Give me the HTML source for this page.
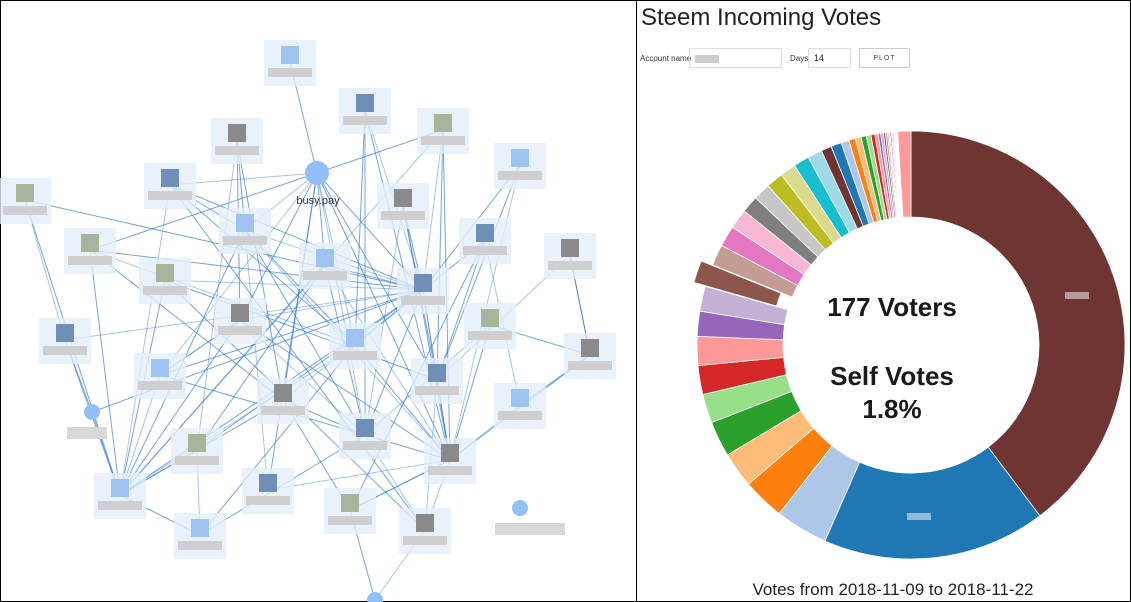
<!DOCTYPE html>
<html><head><meta charset="utf-8">
<style>
html,body{margin:0;padding:0;background:#fff;}
body{width:1131px;height:602px;position:relative;overflow:hidden;font-family:"Liberation Sans",sans-serif;}
#frame{position:absolute;left:0;top:0;width:1129px;height:600px;border:1px solid #000;}
#divider{position:absolute;left:636px;top:0;width:1px;height:602px;background:#000;}
#title{position:absolute;left:641px;top:4px;font-size:24px;color:#222;}
.lbl{position:absolute;font-size:8px;color:#333;}
.inp{position:absolute;height:18px;border:1px solid #ddd;border-radius:2px;font-size:9px;line-height:18px;padding-left:5px;box-sizing:border-box;color:#222;}
#plot{position:absolute;left:859px;top:48px;width:51px;height:20px;border:1px solid #ccc;border-radius:2px;font-size:7px;letter-spacing:1px;text-align:center;line-height:19px;color:#444;box-sizing:border-box;}
#footer{position:absolute;left:700px;width:386px;top:580px;text-align:center;font-size:17px;color:#222;}
svg{position:absolute;left:0;top:0;}
</style></head>
<body>
<div id="frame"></div>
<svg id="graph" width="636" height="602"></svg>
<div id="divider"></div>
<div id="title">Steem Incoming Votes</div>
<div class="lbl" style="left:640px;top:54px">Account name</div>
<div class="inp" style="left:689px;top:48px;width:93px;height:20px"><span style="display:inline-block;width:24px;height:8px;background:#ccc;vertical-align:middle"></span></div>
<div class="lbl" style="left:790px;top:54px">Days</div>
<div class="inp" style="left:808px;top:48px;width:43px;height:20px">14</div>
<div id="plot">PLOT</div>
<svg id="donut" width="1131" height="602" style="pointer-events:none"></svg>
<div id="footer">Votes from 2018-11-09 to 2018-11-22</div>
<script>
const NS="http://www.w3.org/2000/svg";
// ---- donut data ----
const voteShares=[40,17,4,3.2,2.7,2.7,2.2,2.2,2.2,1.9,1.9,1.7,1.6,1.6,1.5,1.3,1.3,1.3,1.2,1.2,1.1,
 0.8,0.8,0.6,0.5,0.45,0.4,0.35,0.3,0.25,0.2,0.2,0.15,0.15,0.1,0.1,0.1,0.1,0.08,0.08,0.06,0.06,0.05,0.05,1.0];
const sliceColors=['#6e3532','#1f77b4','#aec7e8','#ff7f0e','#ffbb78','#2ca02c','#98df8a','#d62728','#ff9896','#9467bd','#c5b0d5','#8c564b','#c49c94','#e377c2','#f7b6d2','#7f7f7f','#c7c7c7','#bcbd22','#dbdb8d','#17becf','#9edae5'];
const explodedIndex=11;
const centerLines=["177 Voters","Self Votes","1.8%"];

const d=document.getElementById('donut');
const cx=911,cy=345,ro=214,ri=128;
const total=voteShares.reduce((a,b)=>a+b,0);
function pt(r,a){return [cx+r*Math.sin(a),cy-r*Math.cos(a)];}
let acc=0;
voteShares.forEach((v,i)=>{
  const a0=acc/total*2*Math.PI; acc+=v; const a1=acc/total*2*Math.PI;
  const large=(a1-a0)>Math.PI?1:0;
  const p0=pt(ro,a0),p1=pt(ro,a1),p2=pt(ri,a1),p3=pt(ri,a0);
  const p=document.createElementNS(NS,'path');
  p.setAttribute('d',`M${p0}A${ro},${ro} 0 ${large} 1 ${p1}L${p2}A${ri},${ri} 0 ${large} 0 ${p3}Z`);
  p.setAttribute('fill',i===voteShares.length-1?'#ff9896':sliceColors[i%sliceColors.length]);
  p.setAttribute('stroke','#fff');p.setAttribute('stroke-width','0.8');
  if(i===explodedIndex){const m=(a0+a1)/2;p.setAttribute('transform',`translate(${12*Math.sin(m)},${-12*Math.cos(m)})`);}
  
  
  d.appendChild(p);
});
[[1065,292,24],[907,513,24]].forEach((b,i)=>{
  const r=document.createElementNS(NS,'rect');
  r.setAttribute('x',b[0]);r.setAttribute('y',b[1]);r.setAttribute('width',b[2]);r.setAttribute('height',7);
  r.setAttribute('fill','rgba(255,255,255,0.5)');
  
  
  d.appendChild(r);
});
[[316,26],[385,26],[418,26]].forEach((c,i)=>{
  const t=document.createElementNS(NS,'text');
  t.setAttribute('x',892);t.setAttribute('y',c[0]);t.setAttribute('text-anchor','middle');
  t.setAttribute('font-size',c[1]);t.setAttribute('font-weight','bold');t.setAttribute('fill','#1a1a1a');
  t.setAttribute('font-family','Liberation Sans, sans-serif');
  t.textContent=centerLines[i];
  
  
  d.appendChild(t);
});

// ---- network graph ----
const nodeX=[317,290,365,443,237,520,170,25,403,245,485,90,570,325,423,165,240,355,65,490,590,160,437,92,283,520,365,197,450,120,268,350,425,200,520,375];
const nodeY=[173,62,110,130,140,165,185,200,205,230,240,250,255,265,290,280,320,345,340,325,355,375,380,412,400,405,435,450,460,495,490,510,530,535,508,600];
const nodeKind=[1,0,0,0,0,0,0,0,0,0,0,0,0,0,0,0,0,0,0,0,0,0,0,1,0,0,0,0,0,0,0,0,0,0,1,1];
const edgeFrom=[0,0,0,0,0,0,0,0,0,0,0,0,0,0,1,2,2,2,3,3,3,4,4,4,4,5,5,5,6,6,6,6,7,7,7,8,8,8,8,9,9,9,9,10,10,10,11,11,11,11,12,12,13,13,13,13,13,14,14,14,15,15,15,16,16,16,16,17,17,17,18,18,18,19,19,19,20,21,21,21,22,22,23,23,24,24,24,25,25,26,26,27,27,28,28,29,30,31,31,32,33,2,3,6,9,4,15,10,16,24,17,11,12,21,27,26];
const edgeTo  =[9,13,16,17,14,22,26,28,24,6,11,3,21,30,0,14,17,26,14,22,28,9,16,24,27,14,22,28,14,17,29,9,14,18,29,14,26,22,28,14,29,17,28,14,22,25,14,29,17,24,20,22,14,29,28,27,26,22,28,26,14,29,22,14,29,28,26,14,28,29,23,29,14,20,28,26,28,14,29,26,28,32,29,14,14,26,31,28,20,28,32,29,14,32,31,14,28,28,35,35,29,28,29,32,26,30,32,31,21,29,33,11,20,16,33,33];

const g=document.getElementById('graph');
for(let i=0;i<edgeFrom.length;i++){
  const a=edgeFrom[i],b=edgeTo[i];
  const l=document.createElementNS(NS,'line');
  l.setAttribute('x1',nodeX[a]);l.setAttribute('y1',nodeY[a]);
  l.setAttribute('x2',nodeX[b]);l.setAttribute('y2',nodeY[b]);
  l.setAttribute('stroke','#3a7fd4');l.setAttribute('stroke-opacity',i%3===0?0.45:0.7);l.setAttribute('stroke-width',1);
  
  
  g.appendChild(l);
}
for(let i=0;i<nodeX.length;i++){
  const x=nodeX[i],y=nodeY[i];
  const grp=document.createElementNS(NS,'g');
  
  
  if(nodeKind[i]===1){
    const c=document.createElementNS(NS,'circle');
    c.setAttribute('cx',x);c.setAttribute('cy',y);c.setAttribute('r',i===0?12:8);c.setAttribute('fill','#93bff7');
    grp.appendChild(c);
    if(i!==0&&i!==35){const r=document.createElementNS(NS,'rect');r.setAttribute('x',x-25);r.setAttribute('y',y+15);r.setAttribute('width',i===34?70:40);r.setAttribute('height',12);r.setAttribute('fill','#d8d8d8');grp.appendChild(r);}
  } else {
    const bg=document.createElementNS(NS,'rect');
    bg.setAttribute('x',x-26);bg.setAttribute('y',y-22);bg.setAttribute('width',52);bg.setAttribute('height',46);
    bg.setAttribute('fill','#e3edf9');bg.setAttribute('opacity',0.8);grp.appendChild(bg);
    const av=document.createElementNS(NS,'rect');
    av.setAttribute('x',x-9);av.setAttribute('y',y-16);av.setAttribute('width',18);av.setAttribute('height',18);
    av.setAttribute('fill',i%4===0?'#8a8a8a':(i%4===1?'#9fc3f0':(i%4===2?'#6f8fb8':'#a9b59a')));grp.appendChild(av);
    const lb=document.createElementNS(NS,'rect');
    lb.setAttribute('x',x-22);lb.setAttribute('y',y+6);lb.setAttribute('width',44);lb.setAttribute('height',9);
    lb.setAttribute('fill','#cfcfcf');grp.appendChild(lb);
  }
  g.appendChild(grp);
}
const t=document.createElementNS(NS,'text');
t.setAttribute('x',318);t.setAttribute('y',204);t.setAttribute('text-anchor','middle');
t.setAttribute('font-size',11);t.setAttribute('fill','#333');t.setAttribute('font-family','Liberation Sans, sans-serif');
t.textContent='busy.pay';


g.appendChild(t);
</script>
</body></html>
